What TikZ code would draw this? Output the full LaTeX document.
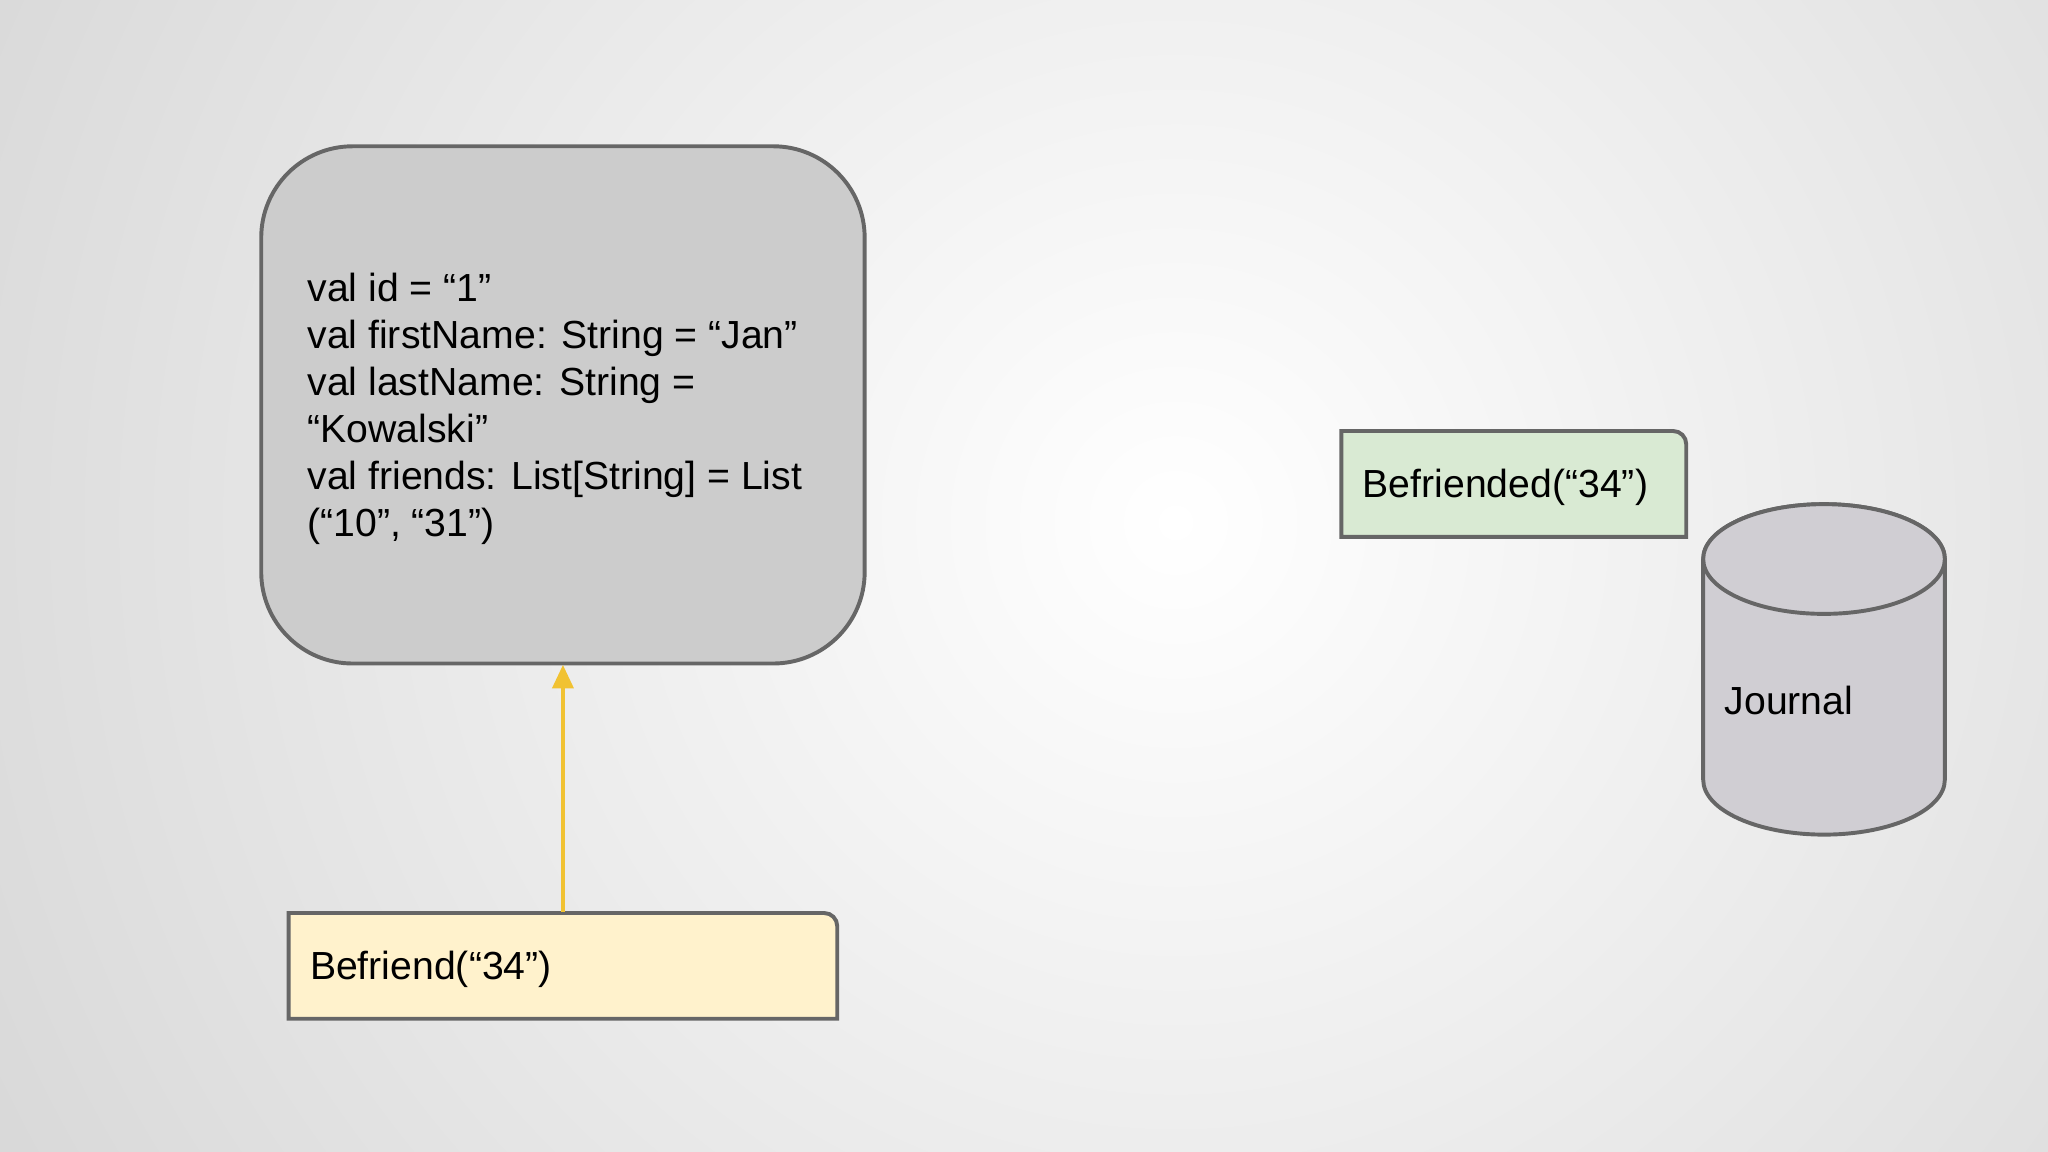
\documentclass[tikz,border=0pt]{standalone}
\usepackage{fontspec}
\setmainfont{Liberation Sans}
\usetikzlibrary{arrows.meta}
\definecolor{edge}{HTML}{666666}
\definecolor{boxgray}{HTML}{CCCCCC}
\definecolor{ylw}{HTML}{FFF2CC}
\definecolor{grn}{HTML}{D9EAD3}
\definecolor{arr}{HTML}{F1C232}
\definecolor{cyl}{HTML}{D0CED3}
\begin{document}
\begin{tikzpicture}[x=0.5pt,y=-0.5pt,
  outline/.style={draw=edge,line width=1.5pt},
  txt/.style={font=\fontsize{15pt}{18pt}\selectfont,inner sep=0pt,align=left,anchor=west}]
\useasboundingbox (0,0) rectangle (1568,882);
\shade[inner color=white,outer color=black!17] (900,400) circle[radius=1150];
% state box
\draw[outline,fill=boxgray,rounded corners=35pt] (200,112) rectangle (662,508);
\node[txt] (state) at (235,313) {val id = “1”\\val firstName: String = “Jan”\\val lastName: String =\\“Kowalski”\\val friends: List[String] = List\\(“10”, “31”)};
\coordinate (stbot) at (431,509);
% command
\draw[outline,fill=ylw] (221,780) -- (221,699) [rounded corners=5pt] -- (641,699) [sharp corners] -- (641,780) -- cycle;
\node[txt] (cmd) at (237,742) {Befriend(“34”)};
\coordinate (cmdtop) at (431,698);
\draw[arr,line width=1.5pt,-{Triangle[length=9pt,width=8pt]}] (cmdtop) -- (stbot);
% event
\draw[outline,fill=grn] (1027,411) -- (1027,330) [rounded corners=5pt] -- (1291,330) [sharp corners] -- (1291,411) -- cycle;
\node[txt] (evt) at (1043,373) {Befriended(“34”)};
% journal cylinder
\draw[outline,fill=cyl] (1304,428) -- (1304,597) arc[start angle=180,end angle=0,x radius=92.5,y radius=42] -- (1489,428) arc[start angle=0,end angle=-180,x radius=92.5,y radius=42] -- cycle;
\draw[outline,fill=cyl] (1396.5,428) ellipse[x radius=92.5,y radius=42];
\node[txt] (journal) at (1320,536) {Journal};
\end{tikzpicture}
\end{document}
